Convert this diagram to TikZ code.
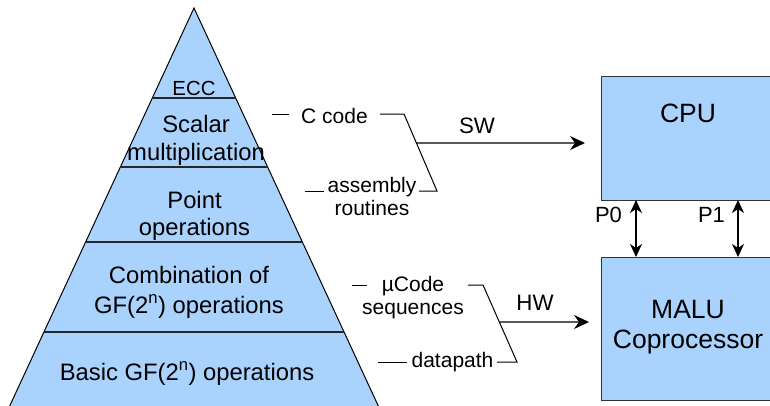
\documentclass[tikz,border=0pt]{standalone}
\usepackage{fontspec}
\setmainfont{Liberation Sans}
\usetikzlibrary{arrows.meta,calc}
\definecolor{pyr}{HTML}{A9D3FD}
\begin{document}
\begin{tikzpicture}[x=1pt,y=-1pt,
  layer/.style={inner sep=0pt,anchor=base,align=center,font=\fontsize{23.8}{28}\selectfont},
  lbl/.style={inner sep=0pt,anchor=base,align=center,font=\fontsize{21}{23}\selectfont},
  big/.style={inner sep=0pt,anchor=base,align=center,font=\fontsize{26.5}{30}\selectfont},
  divider/.style={draw=black!85,line width=1.4pt},
  brk/.style={draw=black,line width=1pt},
  arr/.style={draw=black,line width=1.2pt,-{Stealth[length=15pt,width=14pt,inset=5pt]}},
  darr/.style={draw=black,line width=1.2pt,{Stealth[length=13pt,width=12pt,inset=4pt]}-{Stealth[length=13pt,width=12pt,inset=4pt]}},
  box/.style={fill=pyr,draw=black!80,line width=1pt}]
\useasboundingbox (0,0) rectangle (770,405);
% pyramid
\filldraw[fill=pyr,draw=black,line width=1pt] (194,8) -- (384.8,420) -- (3.2,420) -- cycle;
\draw[divider] (152.3,98) -- (235.7,98);
\draw[divider] (120.4,167) -- (267.6,167);
\draw[divider] (85.2,242) -- (302.8,242);
\draw[divider] (44,332) -- (344,332);
\node[layer,font=\fontsize{20.4}{24}\selectfont] (ecc) at (194,95) {ECC};
\node[layer] (scalar) at (196,160) {Scalar\\multiplication};
\node[layer,font=\fontsize{23.8}{27}\selectfont] (point) at (194.5,235) {Point\\operations};
\node[layer,font=\fontsize{23.8}{30}\selectfont] (comb) at (189,313) {Combination of\\GF(2\textsuperscript{n}) operations};
\node[layer] (basic) at (187,380) {Basic GF(2\textsuperscript{n}) operations};
% SW bracket
\node[lbl] (ccode) at (334.5,123) {C code};
\node[lbl] (asm) at (372,215) {assembly\\routines};
\coordinate (c1) at (272,114);
\coordinate (c2) at (289,114);
\coordinate (c3) at (380,114);
\coordinate (c4) at (404,114);
\coordinate (c5) at (437,191);
\coordinate (c6) at (419,191);
\coordinate (a1) at (305,191);
\coordinate (a2) at (324,191);
\draw[brk] (c1) -- (c2);
\draw[brk] (c3) -- (c4) -- (c5) -- (c6);
\draw[brk] (a1) -- (a2);
\coordinate (swstart) at ($(c4)!0.377!(c5)$);
\node[lbl,font=\fontsize{22.3}{26}\selectfont] (sw) at (477,133) {SW};
% HW bracket
\node[lbl,font=\fontsize{21}{22.5}\selectfont] (mucode) at (413,314) {µCode\\sequences};
\node[lbl] (dp) at (452.5,367) {datapath};
\coordinate (m1) at (352,285);
\coordinate (m2) at (367,285);
\coordinate (m3) at (468,285);
\coordinate (m4) at (483,285);
\coordinate (m5) at (517,362);
\coordinate (m6) at (497,362);
\coordinate (d1) at (378,362);
\coordinate (d2) at (407,362);
\draw[brk] (m1) -- (m2);
\draw[brk] (m3) -- (m4) -- (m5) -- (m6);
\draw[brk] (d1) -- (d2);
\coordinate (hwstart) at ($(m4)!0.48!(m5)$);
\node[lbl,font=\fontsize{22.3}{26}\selectfont] (hw) at (535,310) {HW};
% boxes
\node[box,minimum width=174pt,minimum height=124pt,anchor=north west,inner sep=0pt] (cpu) at (601,76) {};
\node[big] (cputxt) at (688,122) {CPU};
\node[box,minimum width=174pt,minimum height=143pt,anchor=north west,inner sep=0pt] (malu) at (601,257) {};
\node[big,font=\fontsize{26.5}{30}\selectfont] (malutxt) at (688,348) {MALU\\Coprocessor};
\coordinate (swend) at (585,143);
\coordinate (hwend) at (589,322);
\draw[arr] (swstart) -- (swend);
\draw[arr] (hwstart) -- (hwend);
% ports
\draw[darr] (636,200) -- (636,257);
\draw[darr] (738,200) -- (738,257);
\node[lbl,font=\fontsize{22}{26}\selectfont] (p0) at (608.5,222) {P0};
\node[lbl,font=\fontsize{22}{26}\selectfont] (p1) at (711.5,222) {P1};
\end{tikzpicture}
\end{document}
